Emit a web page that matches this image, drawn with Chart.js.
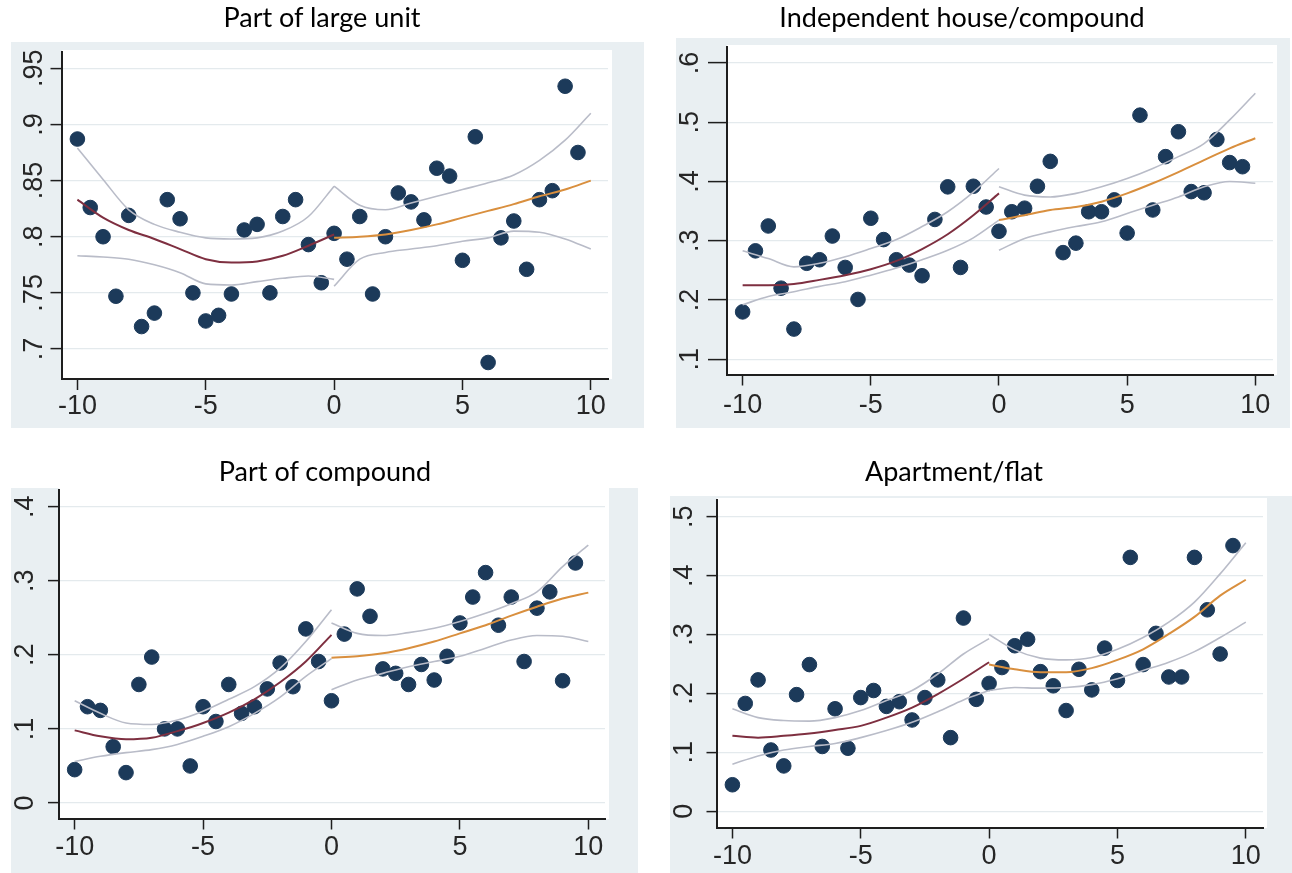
<!DOCTYPE html>
<html>
<head>
<meta charset="utf-8">
<script src="https://cdn.jsdelivr.net/npm/chart.js@4.4.1/dist/chart.umd.min.js"></script>
<style>
  html, body { margin: 0; padding: 0; background: #ffffff; }
  #page { position: relative; width: 1292px; height: 873px; overflow: hidden; background: #ffffff; }
  #page canvas { position: absolute; }
  .title { position: absolute; z-index: 2; white-space: nowrap; color: #000000;
           font-family: Lato, "Open Sans", sans-serif; font-size: 27px; line-height: 1;
           transform: translateX(-50%); }
</style>
</head>
<body>
<div id="page"></div>
<script>
// Running variable: bin centres and the grids for the two local fits
const binX = [-10, -9.5, -9, -8.5, -8, -7.5, -7, -6.5, -6, -5.5, -5, -4.5, -4, -3.5, -3, -2.5, -2, -1.5, -1, -0.5,
              0, 0.5, 1, 1.5, 2, 2.5, 3, 3.5, 4, 4.5, 5, 5.5, 6, 6.5, 7, 7.5, 8, 8.5, 9, 9.5];
const fitXLeft  = [-10, -9, -8, -7, -6, -5, -4, -3, -2, -1, 0];
const fitXRight = [0, 1, 2, 3, 4, 5, 6, 7, 8, 9, 10];
const xTicks = [-10, -5, 0, 5, 10];
const xTickLabels = ['-10', '-5', '0', '5', '10'];

// Part of large unit
const largeUnitMeans = [0.887, 0.826, 0.800, 0.747, 0.819, 0.720, 0.732, 0.833, 0.816, 0.750,
                        0.725, 0.730, 0.749, 0.806, 0.811, 0.750, 0.818, 0.833, 0.793, 0.759,
                        0.803, 0.780, 0.818, 0.749, 0.800, 0.839, 0.831, 0.815, 0.861, 0.854,
                        0.779, 0.889, 0.688, 0.799, 0.814, 0.771, 0.833, 0.841, 0.934, 0.875];
const largeUnitFitLeft  = [0.833, 0.817, 0.806, 0.798, 0.789, 0.780, 0.777, 0.778, 0.783, 0.792, 0.802];
const largeUnitHiLeft   = [0.879, 0.851, 0.824, 0.811, 0.804, 0.799, 0.798, 0.799, 0.805, 0.818, 0.845];
const largeUnitLoLeft   = [0.783, 0.782, 0.780, 0.775, 0.768, 0.758, 0.757, 0.760, 0.763, 0.765, 0.762];
const largeUnitFitRight = [0.799, 0.800, 0.802, 0.806, 0.811, 0.817, 0.823, 0.829, 0.836, 0.842, 0.850];
const largeUnitHiRight  = [0.845, 0.828, 0.824, 0.830, 0.836, 0.842, 0.848, 0.855, 0.868, 0.886, 0.910];
const largeUnitLoRight  = [0.756, 0.780, 0.786, 0.789, 0.792, 0.796, 0.799, 0.805, 0.804, 0.798, 0.789];
const largeUnitTicks = [0.7, 0.75, 0.8, 0.85, 0.9, 0.95];
const largeUnitTickLabels = ['.7', '.75', '.8', '.85', '.9', '.95'];

// Independent house/compound
const houseMeans = [0.180, 0.283, 0.325, 0.220, 0.151, 0.262, 0.268, 0.308, 0.255, 0.201,
                    0.338, 0.302, 0.268, 0.259, 0.241, 0.336, 0.391, 0.255, 0.392, 0.357,
                    0.316, 0.349, 0.355, 0.392, 0.434, 0.280, 0.296, 0.349, 0.349, 0.369,
                    0.313, 0.512, 0.352, 0.442, 0.484, 0.383, 0.381, 0.471, 0.432, 0.425];
const houseFitLeft  = [0.225, 0.225, 0.227, 0.234, 0.242, 0.252, 0.266, 0.286, 0.311, 0.343, 0.380];
const houseHiLeft   = [0.283, 0.270, 0.256, 0.262, 0.273, 0.287, 0.302, 0.324, 0.349, 0.382, 0.422];
const houseLoLeft   = [0.192, 0.206, 0.214, 0.223, 0.231, 0.242, 0.254, 0.268, 0.284, 0.305, 0.335];
const houseFitRight = [0.335, 0.343, 0.352, 0.357, 0.366, 0.380, 0.397, 0.416, 0.436, 0.456, 0.473];
const houseHiRight  = [0.391, 0.377, 0.374, 0.380, 0.391, 0.405, 0.422, 0.442, 0.464, 0.504, 0.549];
const houseLoRight  = [0.284, 0.304, 0.315, 0.324, 0.332, 0.346, 0.360, 0.374, 0.391, 0.400, 0.397];
const houseTicks = [0.1, 0.2, 0.3, 0.4, 0.5, 0.6];
const houseTickLabels = ['.1', '.2', '.3', '.4', '.5', '.6'];

// Part of compound
const compoundMeans = [0.045, 0.130, 0.125, 0.076, 0.041, 0.160, 0.197, 0.100, 0.100, 0.050,
                       0.130, 0.110, 0.160, 0.121, 0.130, 0.154, 0.189, 0.157, 0.235, 0.191,
                       0.138, 0.228, 0.289, 0.252, 0.181, 0.175, 0.160, 0.187, 0.166, 0.198,
                       0.243, 0.278, 0.311, 0.240, 0.278, 0.191, 0.263, 0.285, 0.165, 0.324];
const compoundFitLeft  = [0.098, 0.090, 0.086, 0.088, 0.097, 0.108, 0.122, 0.140, 0.163, 0.191, 0.227];
const compoundHiLeft   = [0.138, 0.121, 0.108, 0.106, 0.112, 0.124, 0.140, 0.157, 0.182, 0.218, 0.261];
const compoundLoLeft   = [0.056, 0.063, 0.068, 0.072, 0.079, 0.090, 0.103, 0.121, 0.143, 0.171, 0.195];
const compoundFitRight = [0.196, 0.198, 0.202, 0.209, 0.218, 0.229, 0.240, 0.253, 0.265, 0.276, 0.284];
const compoundHiRight  = [0.243, 0.229, 0.226, 0.230, 0.236, 0.245, 0.256, 0.269, 0.285, 0.319, 0.348];
const compoundLoRight  = [0.153, 0.166, 0.175, 0.184, 0.191, 0.198, 0.209, 0.220, 0.226, 0.225, 0.218];
const compoundTicks = [0, 0.1, 0.2, 0.3, 0.4];
const compoundTickLabels = ['0', '.1', '.2', '.3', '.4'];

// Apartment/flat
const flatMeans = [0.045, 0.183, 0.223, 0.104, 0.077, 0.198, 0.249, 0.110, 0.174, 0.107,
                   0.193, 0.205, 0.178, 0.186, 0.155, 0.193, 0.223, 0.125, 0.328, 0.190,
                   0.217, 0.244, 0.281, 0.292, 0.237, 0.213, 0.171, 0.241, 0.206, 0.277,
                   0.222, 0.431, 0.249, 0.302, 0.228, 0.228, 0.431, 0.342, 0.267, 0.451];
const flatFitLeft  = [0.128, 0.125, 0.128, 0.132, 0.138, 0.145, 0.159, 0.176, 0.199, 0.225, 0.253];
const flatHiLeft   = [0.174, 0.159, 0.154, 0.153, 0.159, 0.171, 0.188, 0.205, 0.233, 0.267, 0.293];
const flatLoLeft   = [0.080, 0.094, 0.104, 0.110, 0.115, 0.125, 0.137, 0.151, 0.169, 0.189, 0.205];
const flatFitRight = [0.249, 0.241, 0.236, 0.236, 0.243, 0.257, 0.275, 0.301, 0.330, 0.366, 0.393];
const flatHiRight  = [0.300, 0.274, 0.260, 0.257, 0.261, 0.275, 0.295, 0.321, 0.355, 0.403, 0.456];
const flatLoRight  = [0.205, 0.210, 0.209, 0.210, 0.215, 0.225, 0.239, 0.253, 0.271, 0.295, 0.321];
const flatTicks = [0, 0.1, 0.2, 0.3, 0.4, 0.5];
const flatTickLabels = ['0', '.1', '.2', '.3', '.4', '.5'];

// Colours and fonts (Stata s2color-like scheme)
const graphRegion = '#e9eff2';
const plotRegion = '#ffffff';
const axisColor = '#1e1e1e';
const gridColor = '#e4eaed';
const markerColor = '#1c3a5a';
const fitLeftColor = '#7e2f40';
const fitRightColor = '#d98f3e';
const ciColor = '#b9bcc8';
const tickFont = { family: '"Liberation Sans Narrow", "Liberation Sans", Arial, sans-serif', size: 27, lineHeight: 1 };
const tickColor = '#262626';

// Panel geometry in page pixels: box = graph region, area = plot region (axis lines)
const panels = [
  { title: 'Part of large unit', titleX: 322, titleTop: 3,
    box: { left: 11, top: 42, right: 644, bottom: 428 }, area: { left: 62, top: 52, right: 608, bottom: 379 },
    xRange: [-10.6, 10.67], yRange: [0.6733, 0.9645],
    yTickLen: 11.5, yLabelCenter: 27.8, xTickLen: 11, xLabelCenter: 28,
    means: largeUnitMeans, fitL: largeUnitFitLeft, hiL: largeUnitHiLeft, loL: largeUnitLoLeft,
    fitR: largeUnitFitRight, hiR: largeUnitHiRight, loR: largeUnitLoRight,
    ticks: largeUnitTicks, tickLabels: largeUnitTickLabels },
  { title: 'Independent house/compound', titleX: 962, titleTop: 3,
    box: { left: 676, top: 38, right: 1290, bottom: 428 }, area: { left: 727, top: 47, right: 1273, bottom: 375 },
    xRange: [-10.61, 10.69], yRange: [0.0735, 0.627],
    yTickLen: 19, yLabelCenter: 36, xTickLen: 10.5, xLabelCenter: 30.5,
    means: houseMeans, fitL: houseFitLeft, hiL: houseHiLeft, loL: houseLoLeft,
    fitR: houseFitRight, hiR: houseHiRight, loR: houseLoRight,
    ticks: houseTicks, tickLabels: houseTickLabels },
  { title: 'Part of compound', titleX: 325, titleTop: 457,
    box: { left: 11, top: 488, right: 638, bottom: 873 }, area: { left: 59, top: 490, right: 605, bottom: 819 },
    xRange: [-10.61, 10.65], yRange: [-0.0216, 0.4225],
    yTickLen: 11, yLabelCenter: 33.5, xTickLen: 10.5, xLabelCenter: 29,
    means: compoundMeans, fitL: compoundFitLeft, hiL: compoundHiLeft, loL: compoundLoLeft,
    fitR: compoundFitRight, hiR: compoundHiRight, loR: compoundLoRight,
    ticks: compoundTicks, tickLabels: compoundTickLabels },
  { title: 'Apartment/flat', titleX: 954, titleTop: 457,
    box: { left: 670, top: 496, right: 1292, bottom: 873 }, area: { left: 717, top: 500, right: 1263, bottom: 828 },
    xRange: [-10.6, 10.67], yRange: [-0.0284, 0.5284],
    yTickLen: 10.5, yLabelCenter: 32.3, xTickLen: 10.5, xLabelCenter: 29,
    means: flatMeans, fitL: flatFitLeft, hiL: flatHiLeft, loL: flatLoLeft,
    fitR: flatFitRight, hiR: flatHiRight, loR: flatLoRight,
    ticks: flatTicks, tickLabels: flatTickLabels }
];

const page = document.getElementById('page');
const measureCtx = document.createElement('canvas').getContext('2d');
const fontString = f => `${f.size}px ${f.family}`;

function curve(xs, ys, color, width) {
  return {
    type: 'line',
    data: xs.map((x, i) => ({ x, y: ys[i] })),
    borderColor: color, borderWidth: width,
    pointRadius: 0, pointHoverRadius: 0, fill: false,
    tension: 0.4, cubicInterpolationMode: 'monotone'
  };
}

panels.forEach(p => {
  const headroom = 30;                       // transparent strip above the graph region
  const cTop = p.box.top - headroom;
  const cW = p.box.right - p.box.left;
  const cH = p.box.bottom - cTop;

  const canvas = document.createElement('canvas');
  canvas.width = cW; canvas.height = cH;
  canvas.style.left = p.box.left + 'px';
  canvas.style.top = cTop + 'px';
  canvas.style.width = cW + 'px';
  canvas.style.height = cH + 'px';
  page.appendChild(canvas);

  const title = document.createElement('div');
  title.className = 'title';
  title.textContent = p.title;
  title.style.left = p.titleX + 'px';
  title.style.top = p.titleTop + 'px';
  page.appendChild(title);

  const yAxisWidth = p.area.left - p.box.left;
  const xAxisHeight = p.box.bottom - p.area.bottom;

  measureCtx.font = fontString(tickFont);
  const widest = Math.max(...p.tickLabels.map(t => measureCtx.measureText(t).width));
  const yPad = p.yLabelCenter - p.yTickLen - widest / 2;
  const xPad = p.xLabelCenter - p.xTickLen - tickFont.size / 2;

  const regions = {
    id: 'regions',
    beforeDraw(chart) {
      const { ctx, chartArea: a } = chart;
      ctx.save();
      ctx.fillStyle = graphRegion;
      ctx.fillRect(0, headroom, chart.width, chart.height - headroom);
      ctx.fillStyle = plotRegion;
      ctx.fillRect(a.left, a.top - 2, a.right - a.left + 4, a.bottom - a.top + 2);
      ctx.restore();
    }
  };

  new Chart(canvas, {
    type: 'scatter',
    data: {
      datasets: [
        curve(fitXLeft, p.fitL, fitLeftColor, 2),
        curve(fitXRight, p.fitR, fitRightColor, 2),
        curve(fitXLeft, p.hiL, ciColor, 1.6),
        curve(fitXLeft, p.loL, ciColor, 1.6),
        curve(fitXRight, p.hiR, ciColor, 1.6),
        curve(fitXRight, p.loR, ciColor, 1.6),
        {
          type: 'scatter',
          data: binX.map((x, i) => ({ x, y: p.means[i] })),
          backgroundColor: markerColor, borderColor: markerColor, borderWidth: 1,
          pointRadius: 7.3, pointHoverRadius: 7.3
        }
      ]
    },
    options: {
      responsive: false, animation: false, devicePixelRatio: 1,
      layout: { autoPadding: false,
                padding: { left: 0, right: p.box.right - p.area.right, top: p.area.top - cTop, bottom: 0 } },
      plugins: { legend: { display: false }, tooltip: { enabled: false }, title: { display: false } },
      events: [],
      scales: {
        x: {
          type: 'linear', position: 'bottom', min: p.xRange[0], max: p.xRange[1],
          afterBuildTicks: s => { s.ticks = xTicks.map(v => ({ value: v })); },
          afterFit: s => { s.height = xAxisHeight; },
          ticks: { autoSkip: false, minRotation: 0, maxRotation: 0, padding: xPad,
                   color: tickColor, font: tickFont,
                   callback: v => xTickLabels[xTicks.indexOf(v)] },
          grid: { drawOnChartArea: false, drawTicks: true, tickLength: p.xTickLen,
                  tickColor: axisColor, tickWidth: 1.5 },
          border: { display: true, color: axisColor, width: 2 }
        },
        y: {
          type: 'linear', position: 'left', min: p.yRange[0], max: p.yRange[1],
          afterBuildTicks: s => { s.ticks = p.ticks.map(v => ({ value: v })); },
          afterFit: s => { s.width = yAxisWidth; },
          ticks: { autoSkip: false, minRotation: 90, maxRotation: 90, crossAlign: 'center',
                   padding: yPad, color: tickColor, font: tickFont,
                   callback: v => p.tickLabels[p.ticks.indexOf(v)] },
          grid: { drawOnChartArea: true, color: gridColor, lineWidth: 1.2, drawTicks: true,
                  tickLength: p.yTickLen, tickColor: axisColor, tickWidth: 1.5 },
          border: { display: true, color: axisColor, width: 2 }
        }
      }
    },
    plugins: [regions]
  });
});
</script>
</body>
</html>
